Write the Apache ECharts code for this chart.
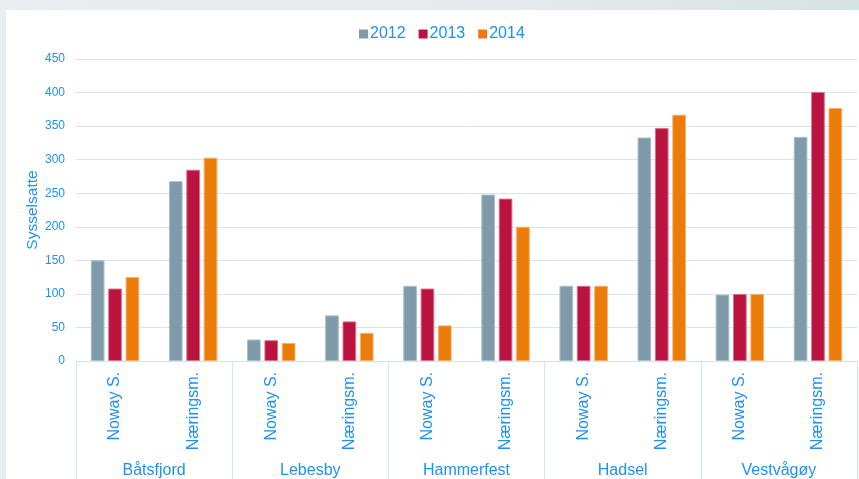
<!DOCTYPE html>
<html>
<head>
<meta charset="utf-8">
<script src="https://cdn.jsdelivr.net/npm/echarts@6/dist/echarts.min.js"></script>
<style>
html,body{margin:0;padding:0;}
body{width:859px;height:479px;background:linear-gradient(90deg,#e9edf0 0%,#e4eaed 60%,#d6e3e3 100%);overflow:hidden;}
#chart{position:absolute;left:0;top:0;width:859px;height:479px;}
</style>
</head>
<body>
<div id="chart"></div>
<script>
const municipalities = ['Båtsfjord', 'Lebesby', 'Hammerfest', 'Hadsel', 'Vestvågøy'];
const subCategories = ['Noway S.', 'Næringsm.'];
const years = ['2012', '2013', '2014'];
// Order: Båtsfjord N, Båtsfjord Næ, Lebesby N, Lebesby Næ, Hammerfest N, Hammerfest Næ, Hadsel N, Hadsel Næ, Vestvågøy N, Vestvågøy Næ
const values2012 = [150, 268, 32, 68, 112, 248, 112, 333, 99, 334];
const values2013 = [108, 285, 31, 59, 108, 242, 112, 347, 100, 401];
const values2014 = [125, 303, 27, 42, 53, 200, 112, 367, 100, 377];
const yTicks = [0, 50, 100, 150, 200, 250, 300, 350, 400, 450];

const blue = '#1f90f4';
const colors = ['#7f9baa', '#bb1340', '#eb7c0a'];
const borders = ['#a9bfca', '#d9728c', '#f4b06a'];
const font = 'Liberation Sans, Arial, sans-serif';

const cats = [];
municipalities.forEach(m => subCategories.forEach(s => cats.push(s)));
const seriesValues = [values2012, values2013, values2014];

const chart = echarts.init(document.getElementById('chart'), null, {renderer: 'canvas'});
chart.setOption({
  animation: false,
  backgroundColor: 'transparent',
  graphic: [{
    type: 'rect', z: -10, silent: true,
    shape: {x: 6, y: 10, width: 853, height: 469},
    style: {fill: '#ffffff'}
  }],
  legend: {
    left: 359, top: 26, padding: 0,
    itemWidth: 9, itemHeight: 9, itemGap: 13,
    icon: 'rect',
    itemStyle: {borderWidth: 0},
    textStyle: {color: blue, fontSize: 16, fontFamily: font, padding: [0, 0, 0, -3]},
    data: years
  },
  grid: {left: 76, right: 2, top: 59, bottom: 118, containLabel: false},
  xAxis: [{
    type: 'category',
    data: cats,
    axisLine: {show: true, lineStyle: {color: '#cfe4f7', width: 1}},
    axisTick: {show: false},
    axisLabel: {rotate: 90, margin: 11, color: blue, fontSize: 16, fontFamily: font, interval: 0}
  }, {
    type: 'category',
    position: 'bottom',
    data: municipalities,
    axisLine: {show: false},
    axisTick: {show: true, length: 120, lineStyle: {color: '#cfe4f7', width: 1}},
    axisLabel: {margin: 102, color: blue, fontSize: 16, fontFamily: font, interval: 0}
  }],
  yAxis: {
    type: 'value',
    min: yTicks[0], max: yTicks[yTicks.length - 1], interval: 50,
    name: 'Sysselsatte',
    nameLocation: 'middle',
    nameGap: 35,
    nameMoveOverlap: false,
    nameTextStyle: {color: blue, fontSize: 15.5, fontFamily: font},
    axisLine: {show: false},
    axisTick: {show: false},
    axisLabel: {color: blue, fontSize: 12, margin: 11, fontFamily: font},
    splitLine: {lineStyle: {color: '#d3e6f8', width: 1}}
  },
  series: years.map((y, i) => ({
    name: y,
    type: 'bar',
    xAxisIndex: 0,
    data: seriesValues[i],
    barGap: '27%',
    barCategoryGap: '38%',
    itemStyle: {color: colors[i], borderColor: borders[i], borderWidth: 1}
  }))
});
</script>
</body>
</html>
